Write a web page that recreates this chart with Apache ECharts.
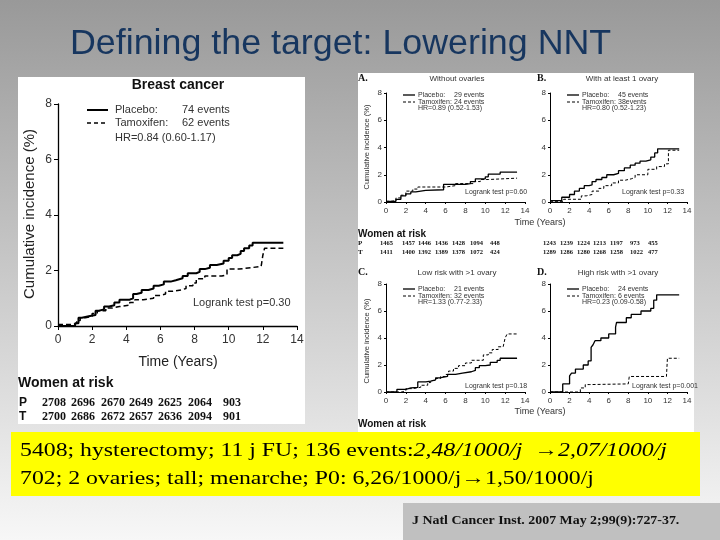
<!DOCTYPE html>
<html><head><meta charset="utf-8">
<script src="https://cdn.jsdelivr.net/npm/echarts@6/dist/echarts.min.js"></script>
<style>html,body{margin:0;padding:0;background:#fff}#c{width:720px;height:540px}</style>
</head><body><div id="c"></div>
<script>
// ---------------- DATA ----------------
const xTickStep = 2;
// Main panel: Breast cancer (time in years, cumulative incidence %)
const mainPlacebo = [[0,0],[1.0,0.1],[1.2,0.3],[1.4,0.35],[1.8,0.4],[2.2,0.55],[2.4,0.6],[2.7,0.7],[3.0,0.75],[3.3,0.85],[3.6,0.95],[4.2,1.0],[4.4,1.15],[4.6,1.2],[4.9,1.3],[5.3,1.35],[5.6,1.45],[5.9,1.5],[6.2,1.6],[6.6,1.65],[6.9,1.72],[7.3,1.8],[7.6,1.9],[8.1,1.95],[8.3,2.05],[8.6,2.1],[8.9,2.2],[9.3,2.25],[9.7,2.35],[10.0,2.45],[10.2,2.55],[10.5,2.6],[10.7,2.7],[10.9,2.8],[11.2,2.9],[11.4,3.0],[13.2,3.0]];
const mainTamoxifen = [[0,0.05],[0.9,0.1],[1.1,0.2],[1.3,0.3],[1.6,0.35],[2.0,0.45],[2.3,0.55],[2.8,0.65],[3.2,0.7],[3.6,0.75],[4.2,0.85],[4.5,0.95],[5.0,1.0],[5.6,1.1],[6.0,1.15],[6.3,1.25],[6.7,1.3],[7.2,1.35],[7.5,1.45],[7.9,1.55],[8.1,1.7],[8.6,1.8],[9.6,1.85],[9.9,2.05],[10.6,2.1],[11.3,2.15],[11.9,2.2],[12.0,2.55],[12.1,2.8],[13.2,2.8]];
// A. Without ovaries
const aPlacebo = [[0,0.05],[1.0,0.2],[1.5,0.45],[2.0,0.6],[2.5,0.75],[3.0,0.85],[4.0,0.9],[5.8,1.3],[8.0,1.35],[8.5,1.5],[9.0,1.7],[10.0,1.85],[10.3,2.05],[11.5,2.2],[13.2,2.2]];
const aTamoxifen = [[0,0.05],[0.5,0.1],[1.0,0.3],[1.5,0.5],[2.0,0.8],[2.7,0.95],[3.2,1.1],[6.0,1.2],[7.0,1.35],[8.8,1.5],[9.5,1.65],[10.3,1.75],[13.2,1.75]];
// B. With at least 1 ovary
const bPlacebo = [[0,0.1],[1.2,0.35],[2.0,0.55],[2.5,0.8],[3.0,1.0],[3.5,1.2],[4.0,1.25],[4.3,1.5],[4.7,1.65],[5.3,1.8],[5.8,2.0],[6.5,2.1],[7.0,2.3],[7.6,2.5],[8.2,2.7],[8.7,2.85],[9.2,3.0],[9.8,3.1],[10.3,3.3],[10.7,3.6],[11.0,3.9],[13.2,3.9]];
const bTamoxifen = [[0,0.05],[1.4,0.2],[3.2,0.45],[3.7,0.55],[4.3,0.8],[5.0,1.0],[5.5,1.2],[6.3,1.4],[7.0,1.6],[7.7,1.7],[8.3,1.8],[8.7,2.0],[10.0,2.4],[10.9,2.6],[11.7,2.8],[12.1,3.8],[13.2,3.85]];
// C. Low risk with >1 ovary
const cPlacebo = [[0,0],[1.1,0.2],[2.0,0.3],[2.5,0.35],[3.2,0.75],[4.0,0.8],[4.5,0.9],[5.0,1.05],[5.4,1.15],[6.2,1.3],[7.0,1.4],[7.7,1.5],[8.6,1.6],[9.0,1.8],[9.4,1.95],[10.0,2.0],[10.5,2.2],[11.2,2.35],[11.5,2.5],[13.2,2.5]];
const cTamoxifen = [[0,0],[1.6,0.1],[2.0,0.25],[2.7,0.35],[3.5,0.5],[4.2,0.7],[4.5,0.85],[5.0,1.0],[5.5,1.15],[6.0,1.3],[6.3,1.55],[6.8,1.75],[7.3,1.95],[8.0,2.15],[8.6,2.35],[9.8,2.75],[10.3,2.9],[10.7,3.15],[11.3,3.35],[11.8,3.45],[12.0,4.0],[12.2,4.3],[13.2,4.3]];
// D. High risk with >1 ovary
const dPlacebo = [[0,0],[1.3,0.6],[2.0,1.2],[2.2,1.4],[2.6,1.7],[3.4,2.0],[3.9,2.3],[4.2,3.3],[4.4,3.5],[4.6,3.8],[5.2,4.0],[6.0,4.3],[6.7,4.8],[6.8,5.15],[7.8,5.5],[8.3,5.75],[9.3,6.0],[10.3,6.2],[10.6,6.8],[10.9,7.2],[13.2,7.2]];
const dTamoxifen = [[0,0],[3.1,0.3],[3.6,0.55],[4.0,0.6],[8.0,0.6],[8.1,1.15],[11.9,1.15],[12.0,2.5],[13.2,2.5]];
// Women at risk
const riskP = [2708,2696,2670,2649,2625,2064,903];
const riskT = [2700,2686,2672,2657,2636,2094,901];
const riskAP = [1465,1457,1446,1436,1428,1094,448];
const riskAT = [1411,1400,1392,1389,1378,1072,424];
const riskBP = [1243,1239,1224,1213,1197,973,455];
const riskBT = [1289,1286,1280,1268,1258,1022,477];

// ---------------- LAYOUT ----------------
const SANS = 'Liberation Sans, Arial, sans-serif';
const SERIF = 'Liberation Serif, Times New Roman, serif';
const chart = echarts.init(document.getElementById('c'));
const grids = [
  {left:58, top:104, width:239, height:222},
  {left:386, top:93, width:139, height:109},
  {left:550, top:93, width:137, height:109},
  {left:386, top:284, width:139, height:108},
  {left:550, top:284, width:137, height:108}
];
function xAx(i){const big=i===0;return {type:'value',gridIndex:i,min:0,max:14,interval:xTickStep,offset:big?3:2,
  axisLine:{lineStyle:{color:'#000',width:big?1.3:1}},axisTick:{length:big?4:2,lineStyle:{color:'#000'}},
  axisLabel:{fontFamily:SANS,fontSize:big?12:8,color:'#333',margin:big?5:3},splitLine:{show:false}};}
function yAx(i){const big=i===0;return {type:'value',gridIndex:i,min:0,max:8,interval:2,
  axisLine:{lineStyle:{color:'#000',width:big?1.3:1}},axisTick:{length:big?4:2,lineStyle:{color:'#000'}},
  axisLabel:{fontFamily:SANS,fontSize:big?12:8,color:'#333',margin:big?6:4},splitLine:{show:false}};}
function ser(i,data,dashed){const big=i===0;return {type:'line',xAxisIndex:i,yAxisIndex:i,data:data,step:'end',symbol:'none',silent:true,animation:false,
  lineStyle:{color:'#000',width:big?(dashed?1.5:2):(dashed?1:1.3),type:dashed?(big?[5,3]:[3,2]):'solid'}};}

const G=[];
function T(x,y,text,o){o=o||{};G.push({type:'text',x:x,y:y,scaleX:o.sx||1,z:o.z||20,silent:true,style:{text:text,
  fontFamily:o.ff||SANS,fontSize:o.fs||12,fontWeight:o.fw||'normal',fontStyle:o.fst||'normal',fill:o.c||'#111',
  align:o.al||'left',verticalAlign:'middle',rich:o.rich}, rotation:o.rot||0});}
function L(x1,y1,x2,y2,w,dash,z){G.push({type:'line',z:z||20,silent:true,shape:{x1:x1,y1:y1,x2:x2,y2:y2},style:{stroke:'#000',lineWidth:w,lineDash:dash||null}});}
// background + panels
G.push({type:'rect',z:-10,silent:true,shape:{x:0,y:0,width:720,height:540},style:{fill:{type:'linear',x:0,y:0,x2:0,y2:1,colorStops:[{offset:0,color:'#999999'},{offset:1,color:'#f7f7f7'}]}}});
G.push({type:'rect',z:-9,silent:true,shape:{x:18,y:77,width:287,height:347},style:{fill:'#ffffff'}});
G.push({type:'rect',z:-9,silent:true,shape:{x:358,y:73,width:336,height:360},style:{fill:'#ffffff'}});
// title
T(70,44,'Defining the target: Lowering NNT',{fs:35.8,c:'#17365f'});
// main panel texts
T(178,85,'Breast cancer',{fs:14,fw:'bold',al:'center'});
G.push({type:'text',x:30,y:214,rotation:Math.PI/2,z:20,silent:true,style:{text:'Cumulative incidence (%)',fontFamily:SANS,fontSize:15,fill:'#222',align:'center',verticalAlign:'middle'}});
T(178,362,'Time (Years)',{fs:14,al:'center',c:'#222'});
L(87,110,108,110,2); L(87,123,108,123,1.5,[4,3]);
T(115,110,'Placebo:',{fs:11,c:'#333'}); T(182,110,'74 events',{fs:11,c:'#333'});
T(115,123,'Tamoxifen:',{fs:11,c:'#333'}); T(182,123,'62 events',{fs:11,c:'#333'});
T(115,138,'HR=0.84 (0.60-1.17)',{fs:11,c:'#333'});
T(193,303,'Logrank test p=0.30',{fs:11,c:'#333'});
T(18,383,'Women at risk',{fs:14,fw:'bold'});
T(19,403,'P',{fs:12,fw:'bold'}); T(19,417,'T',{fs:12,fw:'bold'});
const mainRiskX=[42,71,101,129,158,188,223];
riskP.forEach((v,k)=>T(mainRiskX[k],403,String(v),{fs:12,fw:'bold',ff:SERIF}));
riskT.forEach((v,k)=>T(mainRiskX[k],417,String(v),{fs:12,fw:'bold',ff:SERIF}));
// small panels
const sc='#333';
function panelTexts(ox,oy,letter,title,titleX,pe,te,hr,lr,lrX,showY){
  T(ox,oy,letter,{fs:10,fw:'bold',ff:SERIF,c:'#111'});
  T(titleX,oy+1,title,{fs:8,al:'center',c:sc});
  const lx=ox+(showY?45:30);
  L(lx,oy+17,lx+12,oy+17,1.3); L(lx,oy+24,lx+12,oy+24,1,[3,2]);
  T(lx+15,oy+17,'Placebo:',{fs:7,c:sc}); T(lx+51,oy+17,pe,{fs:7,c:sc});
  T(lx+15,oy+24,'Tamoxifen:',{fs:7,c:sc}); T(lx+51,oy+24,te,{fs:7,c:sc});
  T(lx+15,oy+30,hr,{fs:7,c:sc});
  T(lrX,oy+114,lr,{fs:7,c:sc});
  if(showY) G.push({type:'text',x:367,y:oy+69,rotation:Math.PI/2,z:20,silent:true,style:{text:'Cumulative incidence (%)',fontFamily:SANS,fontSize:7.5,fill:sc,align:'center',verticalAlign:'middle'}});
}
panelTexts(358,78,'A.','Without ovaries',457,'29 events','24 events','HR=0.89 (0.52-1.53)','Logrank test p=0.60',465,true);
panelTexts(537,78,'B.','With at least 1 ovary',622,'45 events','38events','HR=0.80 (0.52-1.23)','Logrank test p=0.33',622,false);
panelTexts(358,272,'C.','Low risk with >1 ovary',457,'21 events','32 events','HR=1.33 (0.77-2.33)','Logrank test p=0.18',465,true);
panelTexts(537,272,'D.','High risk with >1 ovary',618,'24 events','6 events','HR=0.23 (0.09-0.58)','Logrank test p=0.001',632,false);
T(540,223,'Time (Years)',{fs:9,al:'center',c:sc});
T(540,412,'Time (Years)',{fs:9,al:'center',c:sc});
T(358,234,'Women at risk',{fs:10,fw:'bold',c:'#111'});
T(358,424,'Women at risk',{fs:10,fw:'bold',c:'#111'});
T(358,243,'P',{fs:7,fw:'bold',ff:SERIF}); T(358,252,'T',{fs:7,fw:'bold',ff:SERIF});
const aRiskX=[380,402,418,435,452,470,490], bRiskX=[543,560,577,593,610,630,648];
riskAP.forEach((v,k)=>T(aRiskX[k],243,String(v),{fs:6.5,fw:'bold',ff:SERIF}));
riskAT.forEach((v,k)=>T(aRiskX[k],252,String(v),{fs:6.5,fw:'bold',ff:SERIF}));
riskBP.forEach((v,k)=>T(bRiskX[k],243,String(v),{fs:6.5,fw:'bold',ff:SERIF}));
riskBT.forEach((v,k)=>T(bRiskX[k],252,String(v),{fs:6.5,fw:'bold',ff:SERIF}));
// yellow box
G.push({type:'rect',z:50,silent:true,shape:{x:11,y:432,width:689,height:64},style:{fill:'#ffff00'}});
T(20,451,'{n|5408; hysterectomy; 11 j FU; 136 events:}{i|2,48/1000/j }{n| \u2192}{i|2,07/1000/j}',{z:51,sx:1.25,fs:19,ff:SERIF,c:'#000',
  rich:{n:{fontFamily:SERIF,fontSize:19,fill:'#000'},i:{fontFamily:SERIF,fontSize:19,fontStyle:'italic',fill:'#000'}}});
T(20,479,'702; 2 ovaries; tall; menarche; P0: 6,26/1000/j\u21921,50/1000/j',{z:51,sx:1.25,fs:19,ff:SERIF,c:'#000'});
// citation box
G.push({type:'rect',z:50,silent:true,shape:{x:403,y:503,width:317,height:37},style:{fill:'#c0c0c0'}});
T(412,521,'J Natl Cancer Inst. 2007 May 2;99(9):727-37.',{z:51,fs:13,fw:'bold',ff:SERIF,c:'#111',sx:1.07});

const option={animation:false,
  grid:grids,
  xAxis:[0,1,2,3,4].map(xAx),
  yAxis:[0,1,2,3,4].map(yAx),
  series:[ser(0,mainPlacebo,false),ser(0,mainTamoxifen,true),
    ser(1,aPlacebo,false),ser(1,aTamoxifen,true),
    ser(2,bPlacebo,false),ser(2,bTamoxifen,true),
    ser(3,cPlacebo,false),ser(3,cTamoxifen,true),
    ser(4,dPlacebo,false),ser(4,dTamoxifen,true)],
  graphic:{elements:G}
};
chart.setOption(option);
</script></body></html>
